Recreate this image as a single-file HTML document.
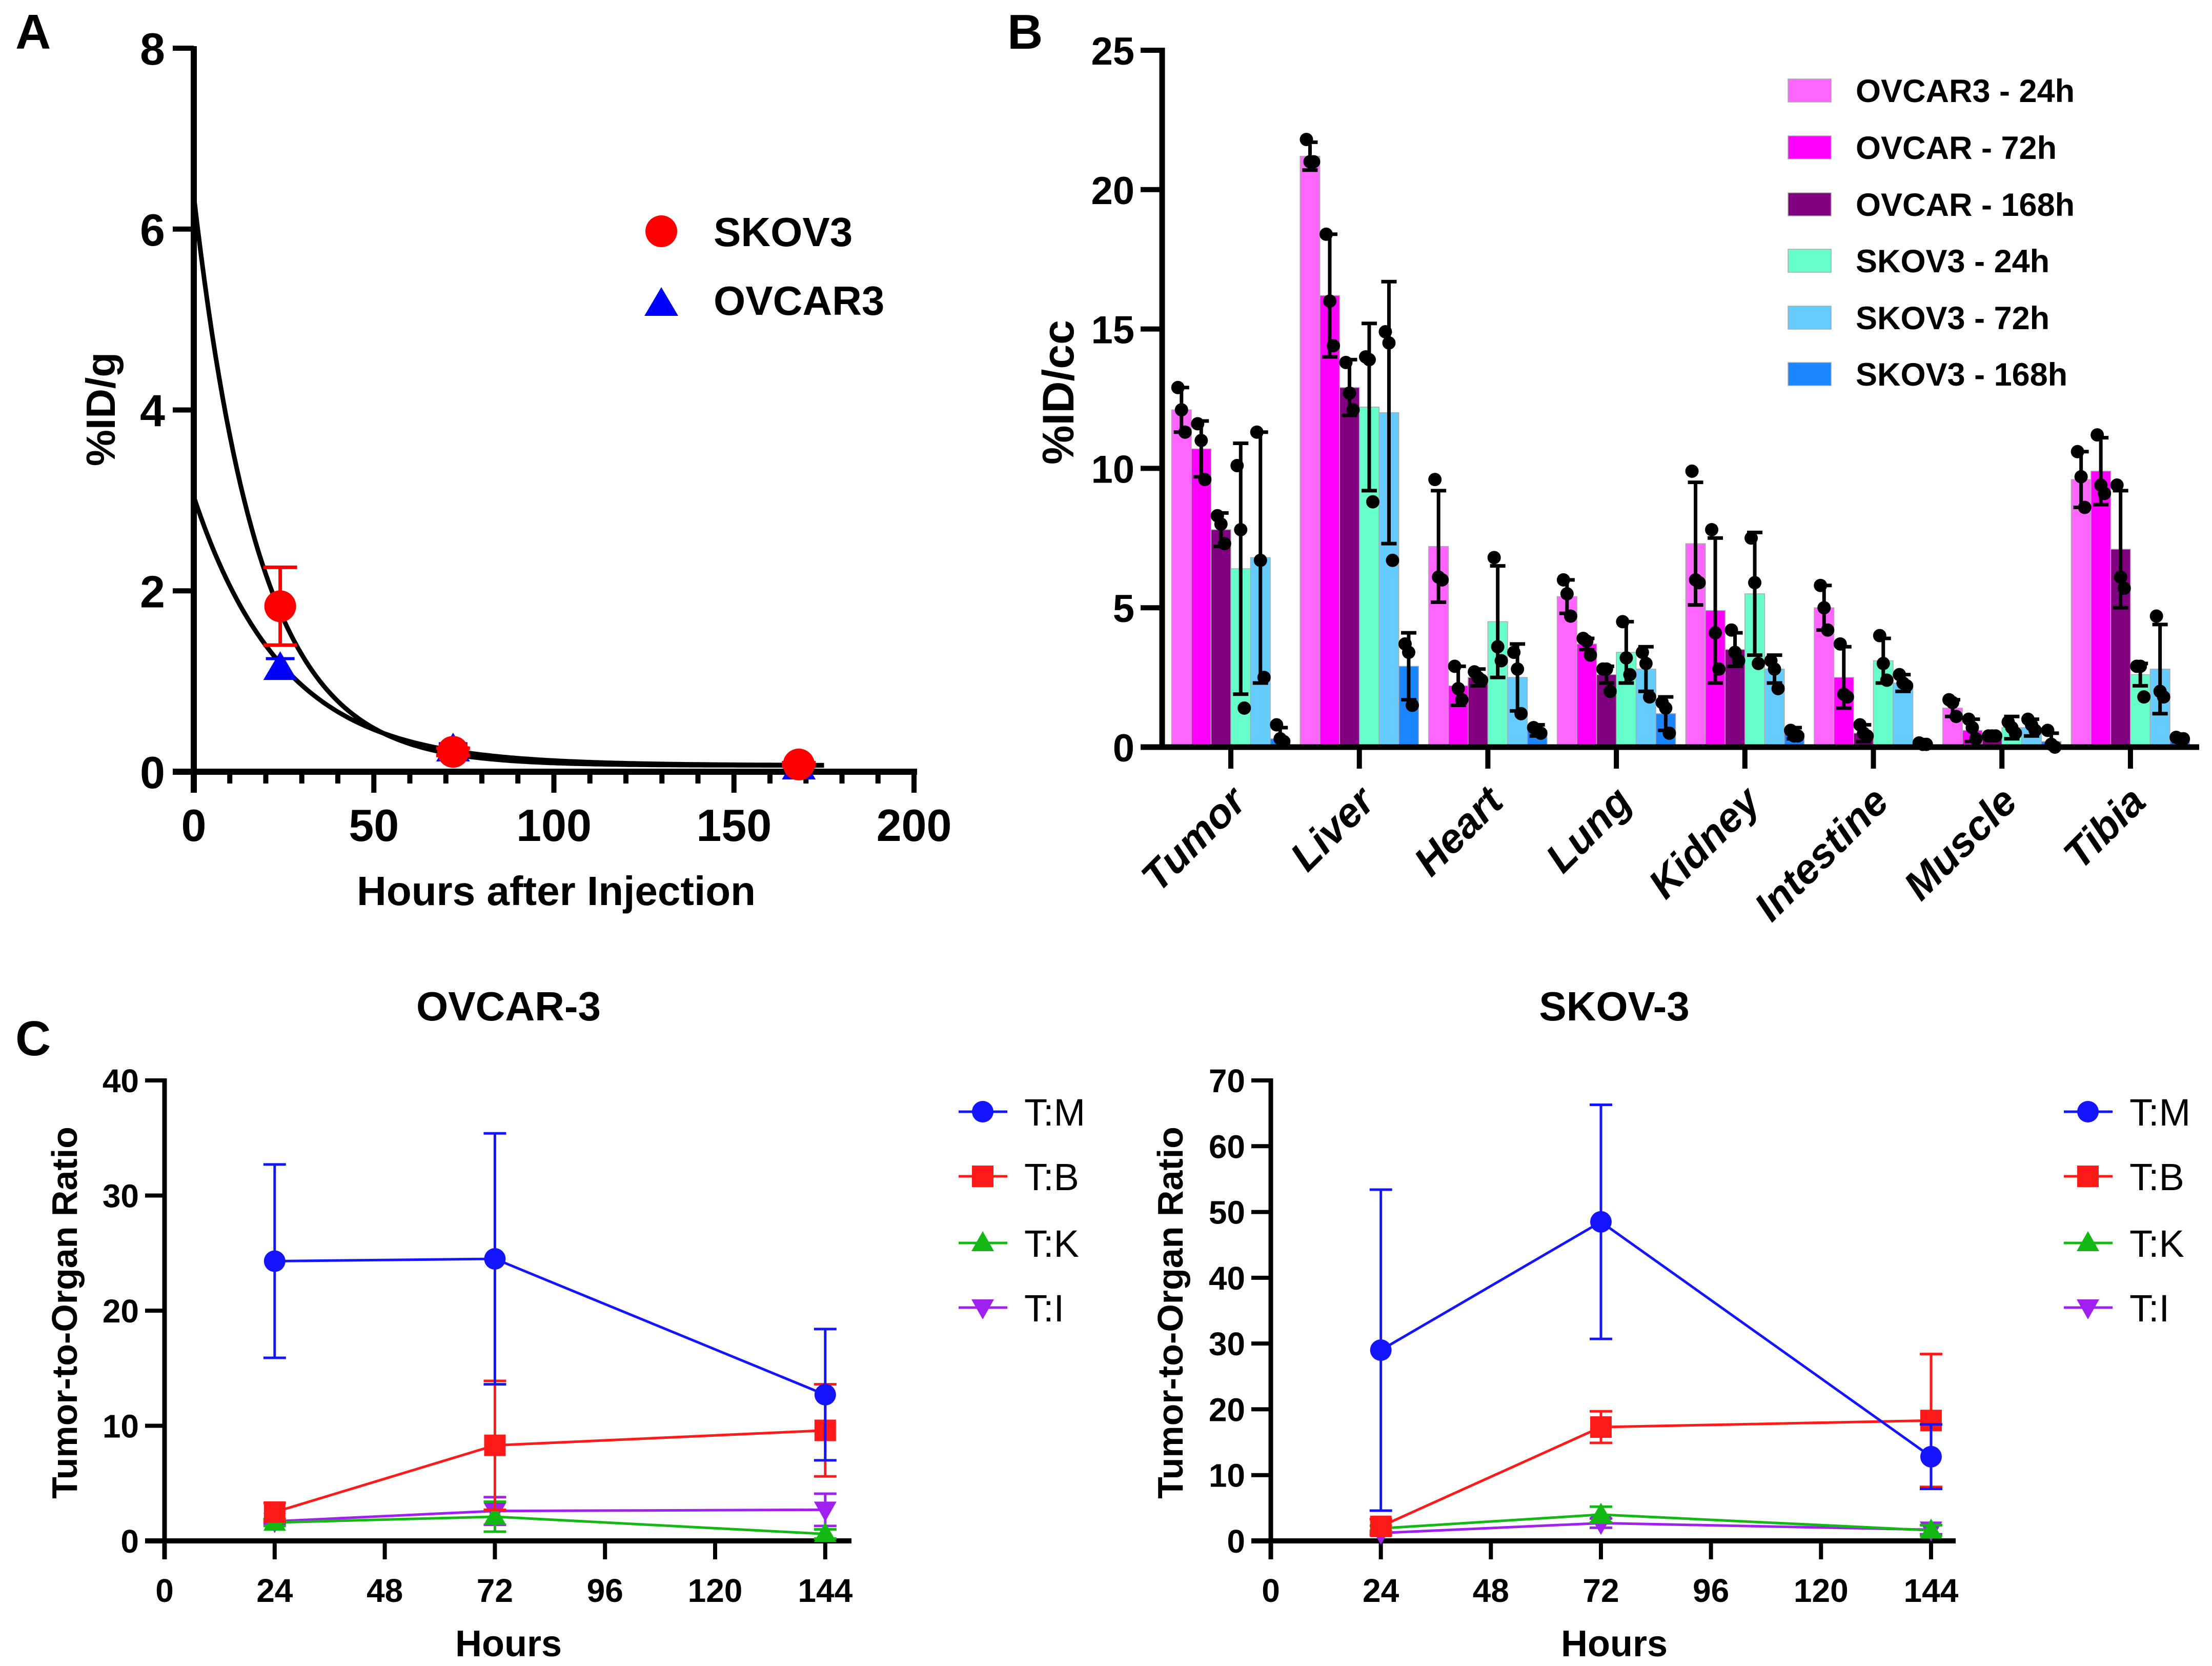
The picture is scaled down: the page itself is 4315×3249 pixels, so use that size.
<!DOCTYPE html>
<html><head><meta charset="utf-8"><title>Biodistribution figure</title>
<style>
html,body{margin:0;padding:0;background:#fff;}
svg{display:block;font-family:"Liberation Sans",Arial,sans-serif;}
</style></head>
<body>
<svg id="fig" xmlns="http://www.w3.org/2000/svg" width="4315" height="3249" viewBox="0 0 4315 3249">
<rect x="0" y="0" width="4315" height="3249" fill="#fff"/>
<g id="pa"></g>
<g id="pb"></g>
<g id="pc1"></g>
<g id="pc2"></g>
</svg>
<script>
// ---------- Panel A data ----------
const A_hours = [24, 72, 168];
const A_skov = [1.83, 0.22, 0.08];
const A_skovErr = [0.43, 0.04, 0.02];
const A_ovcar = [1.15, 0.25, 0.05];
const A_ovcarErr = [0.10, 0.06, 0.02];
const A_fitStart = [6.37, 3.04];
const A_fitRate = [0.0546, 0.0403];
const A_fitPlateau = [0.07, 0.07];
const A_xTicks = [0, 50, 100, 150, 200];
const A_yTicks = [0, 2, 4, 6, 8];

// ---------- Panel B data ----------
const B_categories = ["Tumor","Liver","Heart","Lung","Kidney","Intestine","Muscle","Tibia"];
const B_series = ["OVCAR3 - 24h","OVCAR - 72h","OVCAR - 168h","SKOV3 - 24h","SKOV3 - 72h","SKOV3 - 168h"];
const B_ov24 = [12.1, 21.2, 7.2, 5.4, 7.3, 5.0, 1.4, 9.6];
const B_ov72 = [10.7, 16.2, 2.2, 3.7, 4.9, 2.5, 0.6, 9.9];
const B_ov168 = [7.8, 12.9, 2.5, 2.6, 3.5, 0.5, 0.4, 7.1];
const B_sk24 = [6.4, 12.2, 4.5, 3.4, 5.5, 3.1, 0.7, 2.6];
const B_sk72 = [6.8, 12.0, 2.5, 2.8, 2.8, 2.3, 0.7, 2.8];
const B_sk168 = [0.3, 2.9, 0.6, 1.2, 0.5, 0.1, 0.2, 0.3];
const B_ov24Sd = [0.8, 0.5, 2.0, 0.6, 2.2, 0.8, 0.3, 1.0];
const B_ov72Sd = [1.0, 2.2, 0.7, 0.2, 2.6, 1.1, 0.4, 1.2];
const B_ov168Sd = [0.6, 1.0, 0.3, 0.3, 0.6, 0.3, 0.1, 2.1];
const B_sk24Sd = [4.5, 3.0, 2.0, 1.1, 2.2, 0.8, 0.4, 0.4];
const B_sk72Sd = [4.5, 4.7, 1.2, 0.8, 0.5, 0.3, 0.3, 1.6];
const B_sk168Sd = [0.4, 1.2, 0.2, 0.6, 0.2, 0.05, 0.3, 0.1];
const B_ov24Dots = [[12.9,12.1,11.3],[21.8,21.0,21.0],[9.6,6.1,6.0],[6.0,5.5,4.7],[9.9,6.0,5.9],[5.8,5.0,4.2],[1.7,1.6,1.1],[10.6,9.7,8.6]];
const B_ov72Dots = [[11.6,11.0,9.6],[18.4,16.0,14.4],[2.9,2.1,1.7],[3.9,3.8,3.3],[7.8,4.1,2.8],[3.7,1.9,1.8],[1.0,0.7,0.3],[11.2,9.4,9.1]];
const B_ov168Dots = [[8.3,8.0,7.3],[13.8,12.7,12.1],[2.7,2.5,2.4],[2.8,2.8,2.0],[4.2,3.4,3.1],[0.8,0.5,0.4],[0.4,0.4,0.4],[9.4,6.1,5.7]];
const B_sk24Dots = [[10.1,7.8,1.4],[14.0,13.9,8.8],[6.8,3.6,3.1],[4.5,3.2,2.6],[7.5,5.9,3.0],[4.0,3.0,2.4],[0.9,0.7,0.5],[2.9,2.9,1.8]];
const B_sk72Dots = [[11.3,6.7,2.5],[14.9,14.5,6.7],[3.4,2.8,1.2],[3.4,3.0,1.8],[3.1,2.8,2.1],[2.6,2.3,2.2],[1.0,0.8,0.6],[4.7,2.0,1.8]];
const B_sk168Dots = [[0.8,0.3,0.2],[3.7,3.4,1.5],[0.7,0.6,0.5],[1.6,1.4,0.5],[0.6,0.4,0.4],[0.15,0.1,0.1],[0.6,0.1,0.0],[0.35,0.3,0.3]];
const B_yTicks = [0, 5, 10, 15, 20, 25];

// ---------- Panel C data ----------
const C_hours = [24, 72, 144];
const C_xTicks = [0, 24, 48, 72, 96, 120, 144];
const C_seriesNames = ["T:M","T:B","T:K","T:I"];
const C1_TM = [24.3, 24.5, 12.7];   const C1_TMsd = [8.4, 10.9, 5.7];
const C1_TB = [2.5, 8.3, 9.6];      const C1_TBsd = [0.8, 5.6, 4.0];
const C1_TK = [1.6, 2.1, 0.6];      const C1_TKsd = [0.3, 1.3, 0.4];
const C1_TI = [1.7, 2.6, 2.7];      const C1_TIsd = [0.2, 1.2, 1.4];
const C1_yTicks = [0, 10, 20, 30, 40];
const C2_TM = [29.0, 48.5, 12.8];   const C2_TMsd = [24.4, 17.8, 4.9];
const C2_TB = [2.2, 17.3, 18.3];    const C2_TBsd = [1.1, 2.4, 10.1];
const C2_TK = [1.9, 4.0, 1.6];      const C2_TKsd = [0.4, 1.2, 0.8];
const C2_TI = [1.2, 2.7, 1.7];      const C2_TIsd = [0.3, 0.7, 0.7];
const C2_yTicks = [0, 10, 20, 30, 40, 50, 60, 70];

const NS = "http://www.w3.org/2000/svg";
function mk(tag, attrs, parent) {
  const e = document.createElementNS(NS, tag);
  for (const k in attrs) e.setAttribute(k, attrs[k]);
  parent.appendChild(e);
  return e;
}
function txt(str, attrs, parent) {
  const e = mk("text", attrs, parent);
  e.textContent = str;
  return e;
}

// ================= PANEL A =================
(function(){
  const g = document.getElementById("pa");
  const X0 = 378, X1 = 1783, Y0 = 1505, Y8 = 94;
  const xA = v => X0 + v * (X1 - X0) / 200;
  const yA = v => Y0 - v * (Y0 - Y8) / 8;
  let t = txt("A", {x: 30, y: 95, "font-size": 96, "font-weight": "bold"}, g);
  
  
  let ax = mk("line", {x1: X0, y1: Y0 + 41, x2: X0, y2: Y8 - 4, stroke: "#000", "stroke-width": 12}, g);
  
  
  ax = mk("line", {x1: X0 - 41, y1: Y0, x2: X1 + 6, y2: Y0, stroke: "#000", "stroke-width": 12}, g);
  
  
  for (let v = 0; v <= 200; v += 10) {
    const major = v % 50 === 0;
    const tk = mk("line", {x1: xA(v), y1: Y0, x2: xA(v), y2: Y0 + (major ? 41 : 23), stroke: "#000", "stroke-width": 10}, g);
    
    
  }
  A_xTicks.forEach(v => {
    const l = txt(String(v), {x: xA(v), y: 1640, "font-size": 88, "font-weight": "bold", "text-anchor": "middle"}, g);
    
    
  });
  A_yTicks.forEach(v => {
    const tk = mk("line", {x1: X0 - 41, y1: yA(v), x2: X0, y2: yA(v), stroke: "#000", "stroke-width": 10}, g);
    
    
    const l = txt(String(v), {x: 322, y: yA(v) + 32, "font-size": 88, "font-weight": "bold", "text-anchor": "end"}, g);
    
    
  });
  t = txt("Hours after Injection", {x: 1085, y: 1765, "font-size": 80, "font-weight": "bold", "text-anchor": "middle"}, g);
  
  
  t = txt("%ID/g", {x: 0, y: 0, "font-size": 80, "font-weight": "bold", "text-anchor": "middle", transform: "translate(224,798) rotate(-90)"}, g);
  
  
  for (let s = 0; s < 2; s++) {
    let d = "";
    for (let h = 0; h <= 175; h += 1) {
      const v = (A_fitStart[s] - A_fitPlateau[s]) * Math.exp(-A_fitRate[s] * h) + A_fitPlateau[s];
      d += (h === 0 ? "M" : "L") + xA(h).toFixed(1) + "," + yA(v).toFixed(1);
    }
    const c = mk("path", {d: d, fill: "none", stroke: "#000", "stroke-width": 9}, g);
    
    
  }
  A_hours.forEach((h, i) => {
    const cx = xA(h), cy = yA(A_ovcar[i]);
    const e = mk("path", {d: `M${cx},${yA(A_ovcar[i] + A_ovcarErr[i])}V${yA(A_ovcar[i] - A_ovcarErr[i])}M${cx-28},${yA(A_ovcar[i] + A_ovcarErr[i])}h56`, stroke: "#0000ff", "stroke-width": 6, fill: "none"}, g);
    
    
    const p = mk("polygon", {points: `${cx},${cy-32} ${cx-33},${cy+24} ${cx+33},${cy+24}`, fill: "#0000ff"}, g);
    
    
  });
  A_hours.forEach((h, i) => {
    const cx = xA(h), cy = yA(A_skov[i]);
    const top = yA(A_skov[i] + A_skovErr[i]), bot = yA(A_skov[i] - A_skovErr[i]);
    const e = mk("path", {d: `M${cx},${top}V${bot}M${cx-33},${top}h66M${cx-33},${bot}h66`, stroke: "#ff0000", "stroke-width": 7, fill: "none"}, g);
    
    
    const c = mk("circle", {cx: cx, cy: cy, r: 31, fill: "#ff0000"}, g);
    
    
  });
  let lg = mk("circle", {cx: 1290, cy: 451, r: 31, fill: "#ff0000"}, g);
  
  
  lg = txt("SKOV3", {x: 1392, y: 480, "font-size": 80, "font-weight": "bold"}, g);
  
  
  lg = mk("polygon", {points: "1290,560 1257,616 1323,616", fill: "#0000ff"}, g);
  
  
  lg = txt("OVCAR3", {x: 1392, y: 614, "font-size": 80, "font-weight": "bold"}, g);
  
  
})();

// ================= PANEL B =================
(function(){
  const g = document.getElementById("pb");
  const YX = 2267, Y0 = 1457, Y25 = 98, T0 = 2401, TS = 250.7, BW = 38.5;
  const yB = v => Y0 - v * (Y0 - Y25) / 25;
  const xCat = i => T0 + i * TS;
  const colors = ["#ff66ff", "#ff00ff", "#800080", "#66ffcc", "#66ccff", "#1a85ff"];
  const vals = [B_ov24, B_ov72, B_ov168, B_sk24, B_sk72, B_sk168];
  const sds = [B_ov24Sd, B_ov72Sd, B_ov168Sd, B_sk24Sd, B_sk72Sd, B_sk168Sd];
  const dots = [B_ov24Dots, B_ov72Dots, B_ov168Dots, B_sk24Dots, B_sk72Dots, B_sk168Dots];
  let t = txt("B", {x: 1965, y: 95, "font-size": 96, "font-weight": "bold"}, g);
  
  
  B_categories.forEach((cat, i) => {
    for (let s = 0; s < 6; s++) {
      const x = xCat(i) - 3 * BW + s * BW;
      const v = vals[s][i];
      const r = mk("rect", {x: x, y: yB(v), width: BW, height: Y0 - yB(v), fill: colors[s], stroke: "#aaa", "stroke-width": 1.5}, g);
      
      
    }
  });
  B_categories.forEach((cat, i) => {
    for (let s = 0; s < 6; s++) {
      const cx = xCat(i) - 3 * BW + (s + 0.5) * BW;
      const v = vals[s][i], sd = sds[s][i];
      const top = yB(v + sd), bot = yB(Math.max(0, v - sd));
      const e = mk("path", {d: `M${cx},${top}V${bot}M${cx-15},${top}h30M${cx-15},${bot}h30`, stroke: "#000", "stroke-width": 7, fill: "none"}, g);
      
      
      dots[s][i].forEach((dv, k) => {
        const d = mk("circle", {cx: cx + (k - 1) * 7, cy: yB(dv), r: 13, fill: "#000"}, g);
        
        
      });
    }
  });
  let ax = mk("line", {x1: YX, y1: Y0 + 5, x2: YX, y2: Y25 - 5, stroke: "#000", "stroke-width": 11}, g);
  
  
  ax = mk("line", {x1: 2225, y1: Y0, x2: 4290, y2: Y0, stroke: "#000", "stroke-width": 11}, g);
  
  
  B_yTicks.forEach(v => {
    const tk = mk("line", {x1: 2225, y1: yB(v), x2: YX, y2: yB(v), stroke: "#000", "stroke-width": 10}, g);
    
    
    const l = txt(String(v), {x: 2213, y: yB(v) + 28, "font-size": 76, "font-weight": "bold", "text-anchor": "end"}, g);
    
    
  });
  B_categories.forEach((cat, i) => {
    const tk = mk("line", {x1: xCat(i), y1: Y0, x2: xCat(i), y2: Y0 + 42, stroke: "#000", "stroke-width": 10}, g);
    
    
    const l = txt(cat, {x: 0, y: 0, "font-size": 80, "font-weight": "bold", "font-style": "italic", "text-anchor": "end", transform: `translate(${xCat(i) + 34},1568) rotate(-45)`}, g);
    
    
  });
  t = txt("%ID/cc", {x: 0, y: 0, "font-size": 86, "font-weight": "bold", "text-anchor": "middle", transform: "translate(2094,765) rotate(-90)"}, g);
  
  
  const legY = [176, 287, 398, 508, 619, 729];
  B_series.forEach((name, s) => {
    const r = mk("rect", {x: 3488, y: legY[s] - 22, width: 84, height: 45, fill: colors[s], stroke: "#aaa", "stroke-width": 1.5}, g);
    
    
    const l = txt(name, {x: 3620, y: legY[s] + 23, "font-size": 63, "font-weight": "bold"}, g);
    
    
  });
})();

// ================= PANEL C =================
function drawC(g, cfg) {
  const xC = h => cfg.x0 + h * cfg.perH;
  const yC = v => cfg.y0 - v * (cfg.y0 - cfg.yTop) / cfg.yMax;
  let t = txt(cfg.title, {x: cfg.titleX, y: 1990, "font-size": 80, "font-weight": "bold", "text-anchor": "middle"}, g);
  
  
  let ax = mk("line", {x1: cfg.x0, y1: cfg.y0 + 36, x2: cfg.x0, y2: cfg.yTop - 4, stroke: "#000", "stroke-width": 9}, g);
  
  
  ax = mk("line", {x1: cfg.x0 - 38, y1: cfg.y0, x2: cfg.xEnd, y2: cfg.y0, stroke: "#000", "stroke-width": 10}, g);
  
  
  cfg.yTicks.forEach(v => {
    const tk = mk("line", {x1: cfg.x0 - 38, y1: yC(v), x2: cfg.x0, y2: yC(v), stroke: "#000", "stroke-width": 8}, g);
    
    
    const l = txt(String(v), {x: cfg.x0 - 50, y: yC(v) + 23, "font-size": 64, "font-weight": "bold", "text-anchor": "end"}, g);
    
    
  });
  C_xTicks.forEach(h => {
    const tk = mk("line", {x1: xC(h), y1: cfg.y0, x2: xC(h), y2: cfg.y0 + 36, stroke: "#000", "stroke-width": 8}, g);
    
    
    const l = txt(String(h), {x: xC(h), y: 3124, "font-size": 64, "font-weight": "bold", "text-anchor": "middle"}, g);
    
    
  });
  t = txt("Hours", {x: cfg.titleX, y: 3230, "font-size": 72, "font-weight": "bold", "text-anchor": "middle"}, g);
  
  
  t = txt("Tumor-to-Organ Ratio", {x: 0, y: 0, "font-size": 70, "font-weight": "bold", "text-anchor": "middle", transform: `translate(${cfg.yTitleX},2560) rotate(-90)`}, g);
  
  
  const colors = ["#1414ff", "#ff1a1a", "#14b814", "#a020f0"];
  const shapes = ["circle", "square", "up", "down"];
  function marker(shape, cx, cy, col, parent) {
    if (shape === "circle") return mk("circle", {cx: cx, cy: cy, r: 21, fill: col}, parent);
    if (shape === "square") return mk("rect", {x: cx - 21, y: cy - 21, width: 42, height: 42, fill: col}, parent);
    if (shape === "up") return mk("polygon", {points: `${cx},${cy-23} ${cx-22},${cy+16} ${cx+22},${cy+16}`, fill: col}, parent);
    return mk("polygon", {points: `${cx},${cy+23} ${cx-22},${cy-16} ${cx+22},${cy-16}`, fill: col}, parent);
  }
  for (let s = 3; s >= 0; s--) {
    const vals = cfg.vals[s], sds = cfg.sds[s];
    let d = "";
    C_hours.forEach((h, i) => { d += (i ? "L" : "M") + xC(h) + "," + yC(vals[i]); });
    const ln = mk("path", {d: d, fill: "none", stroke: colors[s], "stroke-width": 5}, g);
    
    
    C_hours.forEach((h, i) => {
      const cx = xC(h), top = yC(vals[i] + sds[i]), bot = yC(Math.max(0, vals[i] - sds[i]));
      const e = mk("path", {d: `M${cx},${top}V${bot}M${cx-22},${top}h44M${cx-22},${bot}h44`, stroke: colors[s], "stroke-width": 5, fill: "none"}, g);
      
      
      const m = marker(shapes[s], cx, yC(vals[i]), colors[s], g);
      
      
    });
  }
  const legY = [2168, 2294, 2424, 2550];
  C_seriesNames.forEach((name, s) => {
    const l = mk("line", {x1: cfg.legX, y1: legY[s], x2: cfg.legX + 95, y2: legY[s], stroke: colors[s], "stroke-width": 5}, g);
    
    
    const m = marker(shapes[s], cfg.legX + 47, legY[s], colors[s], g);
    
    
    const tx = txt(name, {x: cfg.legX + 128, y: legY[s] + 27, "font-size": 74}, g);
    
    
  });
}
(function(){
  const g1 = document.getElementById("pc1");
  let t = txt("C", {x: 30, y: 2058, "font-size": 96, "font-weight": "bold"}, g1);
  
  
  drawC(g1, {x0: 321, perH: 8.95, xEnd: 1661, y0: 3005, yTop: 2107, yMax: 40, yTicks: C1_yTicks,
    title: "OVCAR-3", titleX: 992, yTitleX: 150, legX: 1870,
    vals: [C1_TM, C1_TB, C1_TK, C1_TI], sds: [C1_TMsd, C1_TBsd, C1_TKsd, C1_TIsd]});
  const g2 = document.getElementById("pc2");
  drawC(g2, {x0: 2479, perH: 8.944, xEnd: 3815, y0: 3005, yTop: 2107, yMax: 70, yTicks: C2_yTicks,
    title: "SKOV-3", titleX: 3149, yTitleX: 2307, legX: 4026,
    vals: [C2_TM, C2_TB, C2_TK, C2_TI], sds: [C2_TMsd, C2_TBsd, C2_TKsd, C2_TIsd]});
})();
</script>
</body></html>
